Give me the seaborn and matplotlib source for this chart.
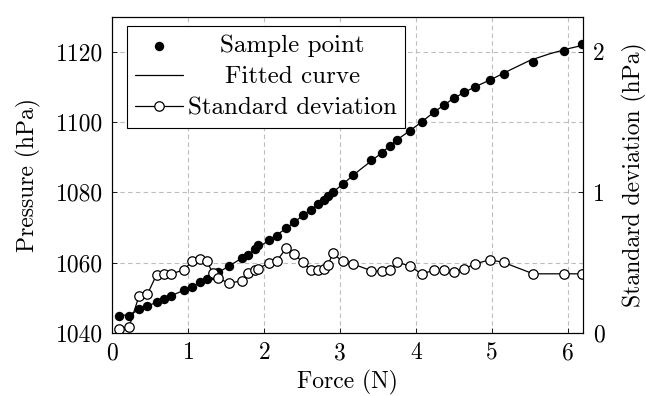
import numpy as np
import pandas as pd
import matplotlib
matplotlib.use("Agg")
import matplotlib.pyplot as plt
import seaborn as sns

# ---- data ----
force = [0.08, 0.22, 0.35, 0.46, 0.58, 0.68, 0.77, 0.94, 1.05, 1.15, 1.24, 1.32,
         1.39, 1.53, 1.70, 1.78, 1.88, 1.91, 2.06, 2.16, 2.29, 2.39, 2.51, 2.62,
         2.71, 2.78, 2.84, 2.90, 3.03, 3.17, 3.41, 3.55, 3.65, 3.75, 3.92, 4.07,
         4.23, 4.36, 4.50, 4.63, 4.78, 4.97, 5.15, 5.54, 5.94, 6.18]
pressure = [1044.8, 1044.8, 1046.9, 1047.7, 1048.7, 1049.6, 1050.6, 1052.1, 1053.2,
            1054.4, 1055.3, 1056.4, 1057.3, 1059.0, 1061.3, 1062.3, 1064.0, 1065.1,
            1066.6, 1067.7, 1069.8, 1071.5, 1073.5, 1075.1, 1076.6, 1077.9, 1079.0,
            1080.2, 1082.4, 1084.9, 1089.1, 1091.2, 1093.1, 1095.0, 1097.5, 1100.1,
            1102.8, 1105.0, 1107.0, 1108.6, 1110.1, 1111.9, 1113.8, 1117.0, 1120.3,
            1122.3]
std_dev = [0.026, 0.045, 0.264, 0.276, 0.414, 0.419, 0.419, 0.450, 0.510, 0.529,
           0.510, 0.430, 0.390, 0.355, 0.370, 0.430, 0.445, 0.455, 0.498, 0.510,
           0.605, 0.562, 0.502, 0.445, 0.445, 0.455, 0.486, 0.567, 0.509, 0.490,
           0.443, 0.438, 0.445, 0.505, 0.474, 0.421, 0.445, 0.445, 0.434, 0.457,
           0.493, 0.521, 0.502, 0.421, 0.421, 0.421]
fit_x = [0.08, 0.22, 0.35, 0.5, 0.75, 1.0, 1.25, 1.5, 1.75, 2.0, 2.25, 2.5, 2.75,
         3.0, 3.25, 3.5, 3.75, 4.0, 4.25, 4.5, 4.75, 5.0, 5.25, 5.5, 5.75, 6.0, 6.18]
fit_y = [1044.8, 1045.3, 1046.5, 1048.0, 1050.4, 1052.7, 1055.4, 1058.6, 1061.9,
         1065.5, 1069.2, 1073.3, 1077.3, 1081.8, 1086.3, 1090.5, 1095.0, 1098.9,
         1103.1, 1106.9, 1109.8, 1112.3, 1115.0, 1117.6, 1119.4, 1120.9, 1121.8]

x_ticks = [0, 1, 2, 3, 4, 5, 6]
y_ticks = [1040, 1060, 1080, 1100, 1120]
y2_ticks = [0, 1, 2]

samples = pd.DataFrame({"Force": force, "Pressure": pressure, "Std": std_dev})
fit = pd.DataFrame({"Force": fit_x, "Pressure": fit_y})

FS = 17

# ---- style ----
sns.set_theme(style="white")
plt.rcParams.update({
    "font.family": ["cmr10", "DejaVu Serif"],
    "mathtext.fontset": "cm",
    "axes.formatter.use_mathtext": True,
    "font.size": FS,
    "axes.edgecolor": "black",
    "axes.linewidth": 0.8,
    "xtick.color": "black",
    "ytick.color": "black",
    "text.color": "black",
    "axes.labelcolor": "black",
})

fig = plt.figure(figsize=(6.46, 3.96), dpi=100)
ax = fig.add_axes([0.1741, 0.1591, 0.7289, 0.7987])
ax2 = ax.twinx()

sns.scatterplot(data=samples, x="Force", y="Pressure", ax=ax, color="black",
                s=46, linewidth=0, label="Sample point", zorder=3, legend=False)
sns.lineplot(data=fit, x="Force", y="Pressure", ax=ax, color="black",
             linewidth=0.9, estimator=None, sort=True, label="Fitted curve",
             zorder=2, legend=False)
sns.lineplot(data=samples, x="Force", y="Std", ax=ax2, color="black",
             linewidth=0.9, estimator=None, marker="o", markersize=6.8,
             markerfacecolor="white", markeredgecolor="black",
             markeredgewidth=0.9, label="Standard deviation", legend=False)

ax.set_xlim(0, 6.2)
ax.set_ylim(1040, 1130)
ax2.set_ylim(0, 2.25)
ax.set_xticks(x_ticks)
ax.set_yticks(y_ticks)
ax2.set_yticks(y2_ticks)
ax.set_xticklabels([str(v) for v in x_ticks])
ax.set_yticklabels([str(v) for v in y_ticks])
ax2.set_yticklabels([str(v) for v in y2_ticks])

ax.grid(True, color="#bdbdbd", linestyle=(0, (4, 3)), linewidth=0.8)
ax.set_axisbelow(True)
ax.tick_params(direction="in", length=3.5, width=0.6, pad=6.5, labelsize=FS,
               left=True, bottom=True, right=False, top=False)
ax2.tick_params(direction="in", length=3.5, width=0.6, pad=7, labelsize=FS,
                right=True, left=False, top=False, bottom=False)

ax.set_xlabel("Force (N)", fontsize=FS, labelpad=4)
ax.set_ylabel("Pressure (hPa)", fontsize=FS, labelpad=11)
ax2.set_ylabel("Standard deviation (hPa)", fontsize=FS, labelpad=12)

for spine in ax2.spines.values():
    spine.set_linewidth(0.8)
    spine.set_color("black")

h1, l1 = ax.get_legend_handles_labels()
h2, l2 = ax2.get_legend_handles_labels()
leg = ax2.legend(h1 + h2, l1 + l2, loc="upper left", bbox_to_anchor=(0.03, 0.97),
                 borderaxespad=0, fancybox=False, framealpha=1, edgecolor="black",
                 fontsize=18, handlelength=1.9, handletextpad=0.2,
                 borderpad=0.35, labelspacing=0.34, scatterpoints=1, numpoints=1)
leg.get_frame().set_linewidth(0.8)

# centre the legend labels (as in the reference), keeping handles on the left
fig.canvas.draw()
renderer = fig.canvas.get_renderer()
texts = leg.get_texts()
widths = [t.get_window_extent(renderer).width for t in texts]
maxw = max(widths)
px_per_pt = fig.dpi / 72.0
items = []
for col in leg._legend_handle_box.get_children():
    items.extend(col.get_children())
for item, w in zip(items, widths):
    item.sep = item.sep + (maxw - w) / 2.0 / px_per_pt

fig.savefig("out.png", dpi=100)
